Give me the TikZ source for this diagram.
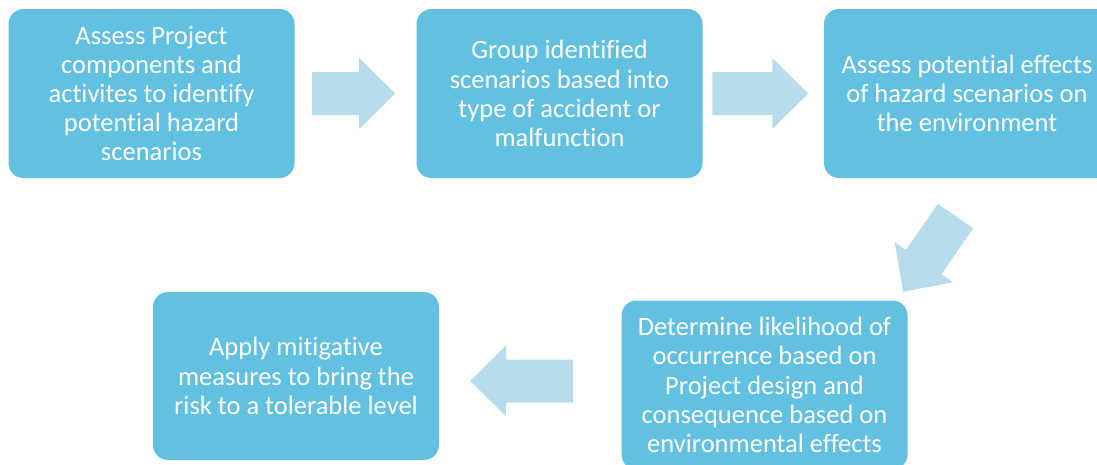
\documentclass[tikz,border=0pt]{standalone}
\usepackage{fontspec}
\setmainfont{Carlito}[Ligatures={NoCommon}]
\usetikzlibrary{calc}
\definecolor{boxfill}{HTML}{62C0E0}
\definecolor{arrowfill}{HTML}{B7DDEC}
\tikzset{
  stepbox/.style={rectangle, rounded corners=15pt, fill=boxfill, text=white,
    minimum width=286pt, minimum height=169pt, inner sep=0pt, align=center,
    font=\fontsize{26.5}{29.2}\selectfont},
  % block arrow of given length, tail at the origin, pointing along +x
  pics/barrow/.style={code={
    \fill[arrowfill] (0,-21.5) -- ({#1-36},-21.5) -- ({#1-36},-35.5) -- (#1,0)
      -- ({#1-36},35.5) -- ({#1-36},21.5) -- (0,21.5) -- cycle;}}
}
\begin{document}
\begin{tikzpicture}[x=1pt,y=-1pt]
\useasboundingbox (0,0) rectangle (1097,464);
\clip (0,0) rectangle (1097,464);

\node[stepbox] (b1) at (151.5,93.5) {Assess Project\\components and\\activites to identify\\potential hazard\\scenarios};
\node[stepbox] (b2) at (559.5,93.5) {Group identified\\scenarios based into\\type of accident or\\malfunction};
\node[stepbox] (b3) at (967,93.5) {Assess potential effects\\of hazard scenarios on\\the environment};
\node[stepbox] (b4) at (764.5,385) {Determine likelihood of\\occurrence based on\\Project design and\\consequence based on\\environmental effects};
\node[stepbox, minimum height=168pt] (b5) at (296,376) {Apply mitigative\\measures to bring the\\risk to a tolerable level};

% block arrows between the steps
\pic at ($(b1.east)+(17.5,0)$) {barrow=83};
\pic at ($(b2.west)+(296,0)$) {barrow=96};
\pic[rotate=235.4] at (955.5,216) {barrow=92};
\pic[rotate=180] at ($(b5.east)+(134,5)$) {barrow=103};
\end{tikzpicture}
\end{document}
